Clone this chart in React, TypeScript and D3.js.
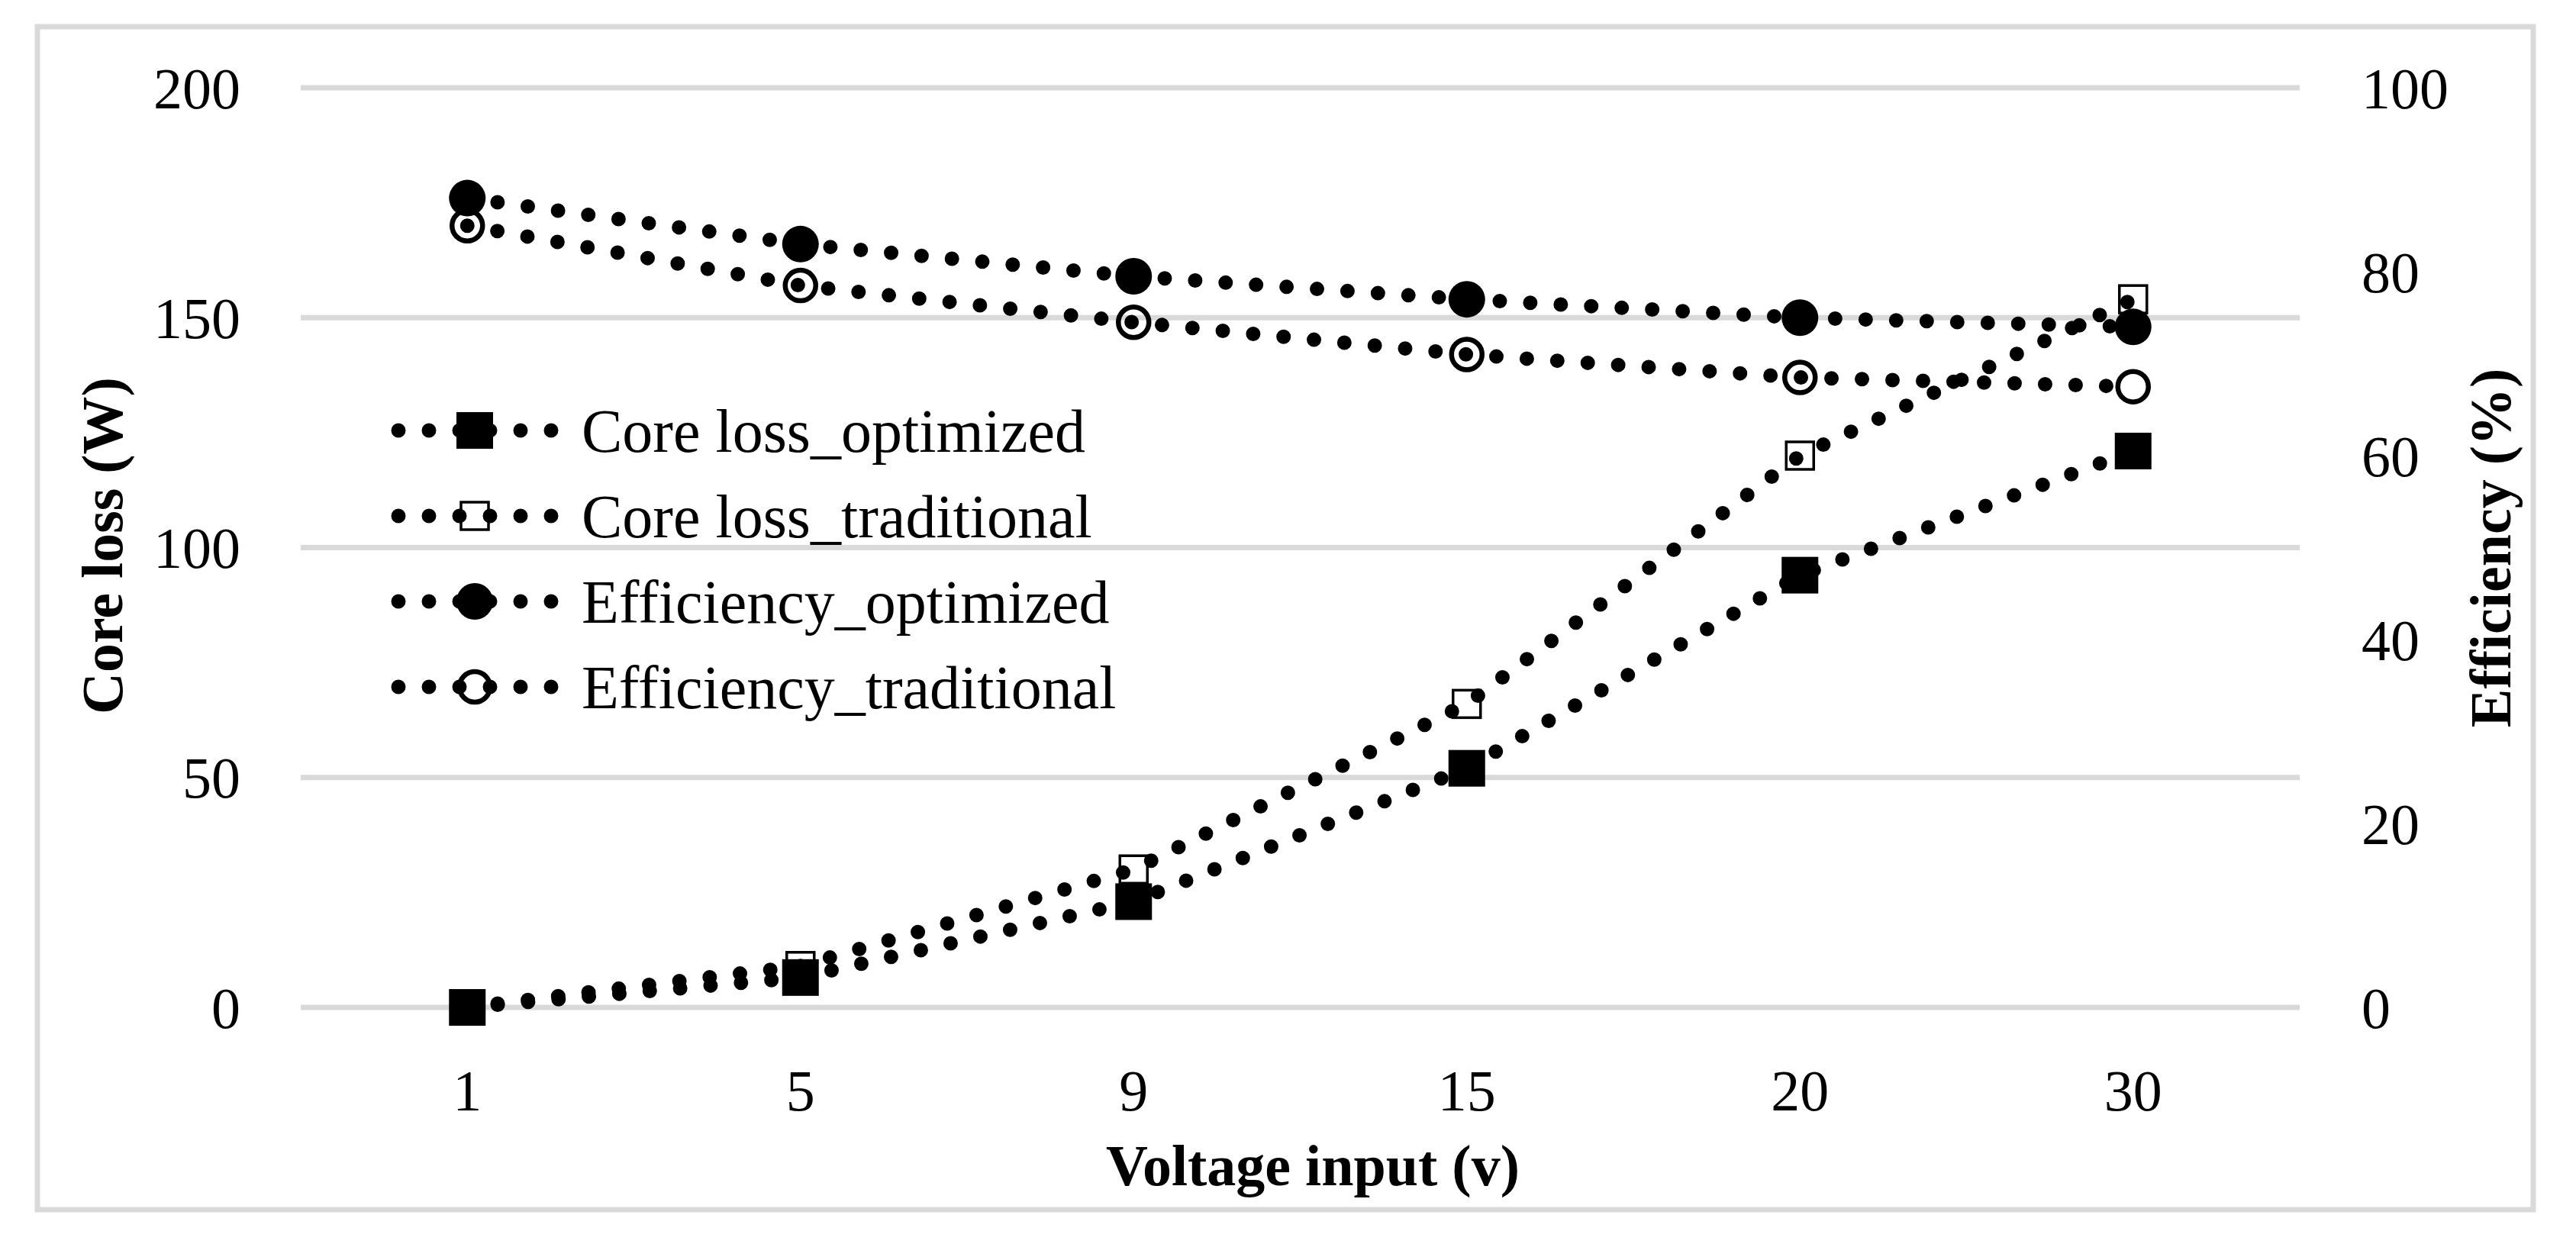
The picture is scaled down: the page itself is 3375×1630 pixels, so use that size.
import { useEffect, useRef } from "react";
import * as d3 from "d3";

const voltages = ["1", "5", "9", "15", "20", "30"];
const coreLossOptimized = [0, 6.5, 23, 52, 94, 121];
const coreLossTraditional = [0, 9, 30, 66, 120, 154];
const efficiencyOptimized = [88, 83, 79.5, 77, 75, 74];
const efficiencyTraditional = [85, 78.5, 74.5, 71, 68.5, 67.5];
const leftTicks = [0, 50, 100, 150, 200];
const rightTicks = [0, 20, 40, 60, 80, 100];
const legendLabels = [
  "Core loss_optimized",
  "Core loss_traditional",
  "Efficiency_optimized",
  "Efficiency_traditional",
];

const W = 3375;
const H = 1630;
const FONT = "'Liberation Serif', 'Times New Roman', serif";

type Marker = "square" | "squareOpen" | "circle" | "circleOpen";

function drawMarker(g: any, kind: Marker, cx: number, cy: number) {
  if (kind === "square") {
    g.append("rect")
      .attr("x", cx - 24).attr("y", cy - 24)
      .attr("width", 48).attr("height", 48)
      .attr("fill", "#000");
  } else if (kind === "squareOpen") {
    g.append("rect")
      .attr("x", cx - 18).attr("y", cy - 18)
      .attr("width", 36).attr("height", 36)
      .attr("fill", "none").attr("stroke", "#000").attr("stroke-width", 3.5);
  } else if (kind === "circle") {
    g.append("circle").attr("cx", cx).attr("cy", cy).attr("r", 24).attr("fill", "#000");
  } else {
    g.append("circle")
      .attr("cx", cx).attr("cy", cy).attr("r", 20)
      .attr("fill", "none").attr("stroke", "#000").attr("stroke-width", 6.5);
  }
}

const App = () => {
  const ref = useRef<SVGSVGElement | null>(null);

  useEffect(() => {
    if (!ref.current) return;
    const svg = d3.select(ref.current);
    svg.selectAll("*").remove();

    const x = d3.scalePoint<string>().domain(voltages).range([394, 3013]).padding(0.5);
    const yL = d3.scaleLinear([0, 200], [1320, 115]);
    const yR = d3.scaleLinear([0, 100], [1320, 115]);

    // outer frame
    svg.append("rect")
      .attr("x", 49).attr("y", 35).attr("width", 3270).attr("height", 1550)
      .attr("fill", "#fff").attr("stroke", "#d9d9d9").attr("stroke-width", 7);

    // gridlines
    svg.append("g")
      .selectAll("line")
      .data(leftTicks)
      .join("line")
      .attr("x1", 394).attr("x2", 3013)
      .attr("y1", (d) => yL(d)).attr("y2", (d) => yL(d))
      .attr("stroke", "#d9d9d9").attr("stroke-width", 7);

    const text = svg.append("g").attr("font-family", FONT).attr("fill", "#000");

    text.selectAll(".lt")
      .data(leftTicks)
      .join("text")
      .attr("class", "lt")
      .attr("x", 315).attr("y", (d) => yL(d)).attr("dy", "0.35em")
      .attr("text-anchor", "end").attr("font-size", 76)
      .text((d) => d);

    text.selectAll(".rt")
      .data(rightTicks)
      .join("text")
      .attr("class", "rt")
      .attr("x", 3094).attr("y", (d) => yR(d)).attr("dy", "0.35em")
      .attr("text-anchor", "start").attr("font-size", 76)
      .text((d) => d);

    text.selectAll(".xt")
      .data(voltages)
      .join("text")
      .attr("class", "xt")
      .attr("x", (d) => x(d)!).attr("y", 1455)
      .attr("text-anchor", "middle").attr("font-size", 76)
      .text((d) => d);

    text.append("text")
      .attr("x", 1720).attr("y", 1553)
      .attr("text-anchor", "middle").attr("font-size", 76).attr("font-weight", "bold")
      .text("Voltage input (v)");

    text.append("text")
      .attr("transform", "translate(133,715) rotate(-90)")
      .attr("dy", "0.35em")
      .attr("text-anchor", "middle").attr("font-size", 76).attr("font-weight", "bold")
      .text("Core loss (W)");

    text.append("text")
      .attr("transform", "translate(3262,718) rotate(-90)")
      .attr("dy", "0.35em")
      .attr("text-anchor", "middle").attr("font-size", 76).attr("font-weight", "bold")
      .text("Efficiency (%)");

    const series: { values: number[]; y: any; marker: Marker }[] = [
      { values: coreLossOptimized, y: yL, marker: "square" },
      { values: coreLossTraditional, y: yL, marker: "squareOpen" },
      { values: efficiencyOptimized, y: yR, marker: "circle" },
      { values: efficiencyTraditional, y: yR, marker: "circleOpen" },
    ];

    const dotted = (sel: any) =>
      sel.attr("fill", "none").attr("stroke", "#000").attr("stroke-width", 19)
        .attr("stroke-linecap", "round").attr("stroke-dasharray", "0 40");

    series.forEach((s) => {
      const g = svg.append("g");
      const line = d3.line<number>()
        .x((_, i) => x(voltages[i])!)
        .y((d) => s.y(d));
      g.append("path").attr("d", line(s.values)).call(dotted);
      s.values.forEach((v, i) => drawMarker(g, s.marker, x(voltages[i])!, s.y(v)));
    });

    // legend
    const legend = svg.append("g");
    series.forEach((s, i) => {
      const cy = 564 + i * 112;
      const row = legend.append("g");
      row.append("path").attr("d", `M522,${cy}H735`).call(dotted);
      drawMarker(row, s.marker, 622, cy);
      row.append("text")
        .attr("x", 762).attr("y", cy).attr("dy", "0.35em")
        .attr("font-family", FONT).attr("font-size", 80)
        .text(legendLabels[i]);
    });
  }, []);

  return (
    <svg
      ref={ref}
      width={W}
      height={H}
      viewBox={`0 0 ${W} ${H}`}
      style={{ position: "absolute", left: 0, top: 0, background: "#fff" }}
    />
  );
};

export default App;
